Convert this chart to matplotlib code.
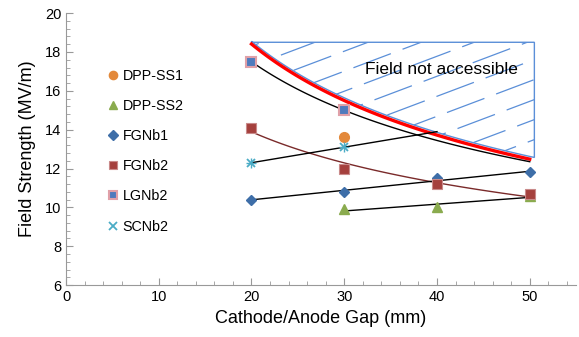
import numpy as np
import matplotlib
matplotlib.use('Agg')
import matplotlib.pyplot as plt
from matplotlib.patches import Polygon

plt.rcParams['font.family'] = ['Liberation Sans', 'DejaVu Sans']

# data
gap_ss1 = [30]
e_ss1 = [13.6]
gap_ss2 = [30, 40, 50]
e_ss2 = [9.9, 10.0, 10.6]
gap_fg1 = [20, 30, 40, 50]
e_fg1 = [10.4, 10.8, 11.5, 11.8]
gap_fg2 = [20, 30, 40, 50]
e_fg2 = [14.1, 12.0, 11.2, 10.7]
gap_lg2 = [20, 30]
e_lg2 = [17.5, 15.0]
gap_sc2 = [20, 30]
e_sc2 = [12.3, 13.1]

# limit curve (red), read at a few gaps
gap_lim = [20, 30, 40, 50]
e_lim = [18.42, 15.5, 13.7, 12.5]
hatch_top = 18.5


def power_fit(x, y, x0, x1):
    b, a = np.polyfit(np.log(x), np.log(y), 1)
    xs = np.linspace(x0, x1, 100)
    return xs, np.exp(a) * xs ** b


def lin_fit(x, y, x0, x1):
    k, c = np.polyfit(x, y, 1)
    xs = np.array([x0, x1])
    return xs, k * xs + c


fig = plt.figure(figsize=(5.79, 3.37), dpi=100)
ax = fig.add_axes([0.114, 0.154, 0.881, 0.807])

# hatched "not accessible" region
xl, yl = power_fit(gap_lim, e_lim, 20, 50.5)
yl = yl + 0.14
verts = [(20, hatch_top), (50.5, hatch_top)] + list(zip(xl[::-1], yl[::-1]))
poly = Polygon(verts, closed=True, facecolor='none', edgecolor='#5b8fd8', lw=1.0, zorder=2)
ax.add_patch(poly)
for i, c in enumerate(np.arange(8, 20, 1.03)):
    xs = np.array([18, 52])
    ln, = ax.plot(xs, c + 0.18 * (xs - 20), color='#5b8fd8', lw=0.9,
                  ls=(i * 9 % 40, (32, 10)), zorder=2)
    ln.set_clip_path(poly)
ax.text(40.5, 17.1, 'Field not accessible', fontsize=12.5, ha='center', va='center', zorder=5)

# trend lines
xs, ys = power_fit(gap_lim, e_lim, 20, 50)
ax.plot(xs, ys, color='#ff0000', lw=2.4, zorder=3)
xs, ys = power_fit(gap_lg2, e_lg2, 20, 50)
ax.plot(xs, ys, color='black', lw=1, zorder=3)
xs, ys = power_fit(gap_fg2, e_fg2, 20, 50)
ax.plot(xs, ys, color='#7a2a2a', lw=1, zorder=3)
xs, ys = lin_fit(gap_fg1, e_fg1, 20, 50)
ax.plot(xs, ys, color='black', lw=1, zorder=3)
xs, ys = lin_fit(gap_sc2, e_sc2, 20, 40)
ax.plot(xs, ys, color='black', lw=1, zorder=3)
xs, ys = lin_fit(gap_ss2, e_ss2, 30, 50)
ax.plot(xs, ys, color='black', lw=1, zorder=3)

# markers
ax.plot(gap_ss1, e_ss1, 'o', ms=7, color='#e3893b', ls='none', label='DPP-SS1', zorder=4)
ax.plot(gap_ss2, e_ss2, '^', ms=7, color='#8aab4e', ls='none', label='DPP-SS2', zorder=4)
ax.plot(gap_fg1, e_fg1, 'D', ms=5.5, color='#3e6ea8', ls='none', label='FGNb1', zorder=4)
ax.plot(gap_fg2, e_fg2, 's', ms=7, color='#a5403d', mec='#c98a8a', mew=0.8, ls='none', label='FGNb2', zorder=4)
ax.plot(gap_lg2, e_lg2, 's', ms=7, color='#4f7bbd', mec='#e0a0a8', mew=1.5, ls='none', label='LGNb2', zorder=4)
ax.plot(gap_sc2, e_sc2, 'x', ms=6, color='#4bacc6', mew=1.3, ls='none', label='SCNb2', zorder=4)
ax.plot(gap_sc2, e_sc2, '+', ms=7, color='#4bacc6', mew=1.0, ls='none', zorder=4)

ax.legend(loc='upper left', bbox_to_anchor=(0.07, 0.822), frameon=False, fontsize=10.3,
          handlelength=0.6, handletextpad=0.35, labelspacing=1.13, borderpad=0, markerscale=0.85)

ax.set_xlim(0, 55)
ax.set_ylim(6, 20)
ax.set_xticks([0, 10, 20, 30, 40, 50])
ax.set_xticks(np.arange(0, 55.1, 2), minor=True)
ax.set_yticks(np.arange(6, 20.1, 2))
ax.set_yticks(np.arange(6, 20.01, 0.4), minor=True)
ax.tick_params(direction='in', which='both', colors='#999999', labelcolor='black', labelsize=10.5)
ax.tick_params(which='major', length=5)
ax.tick_params(which='minor', length=3)
for s in ['top', 'right']:
    ax.spines[s].set_visible(False)
for s in ['left', 'bottom']:
    ax.spines[s].set_color('#999999')
ax.set_xlabel('Cathode/Anode Gap (mm)', fontsize=13, labelpad=4)
ax.set_ylabel('Field Strength (MV/m)', fontsize=13, labelpad=6)

plt.savefig('out.png', dpi=100)
